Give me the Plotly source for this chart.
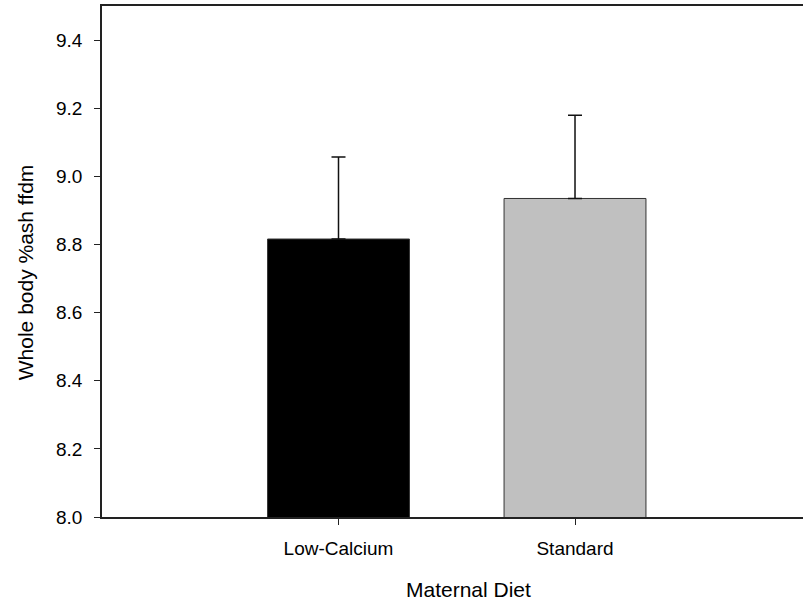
import plotly.graph_objects as go

categories = ["Low-Calcium", "Standard"]
means = [8.816, 8.935]
errors = [0.241, 0.244]
colors = ["#000000", "#C0C0C0"]
y_ticks = [8.0, 8.2, 8.4, 8.6, 8.8, 9.0, 9.2, 9.4]
x_title = "Maternal Diet"
y_title = "Whole body %ash ffdm"

fig = go.Figure()
fig.add_trace(go.Bar(
    x=categories,
    y=means,
    width=0.6,
    marker=dict(color=colors, line=dict(color="#333333", width=1)),
    error_y=dict(type="data", symmetric=False, array=errors,
                 arrayminus=[0, 0], color="#111111", thickness=1.5, width=7),
    showlegend=False,
    hoverinfo="skip",
))

font_family = "Arial, Liberation Sans, sans-serif"
fig.update_layout(
    width=803, height=604,
    margin=dict(l=102, r=0, t=6, b=87, pad=0),
    plot_bgcolor="white", paper_bgcolor="white",
    font=dict(family=font_family, color="black"),
    xaxis=dict(
        range=[-1, 1.964], showgrid=False, zeroline=False,
        showline=True, linecolor="#222222", linewidth=1.5, mirror=True,
        ticks="outside", ticklen=6, tickwidth=1, tickcolor="#222222",
        tickfont=dict(size=19, family=font_family),
        ticklabelstandoff=7,
    ),
    yaxis=dict(
        range=[8.0, 9.5], showgrid=False, zeroline=False,
        showline=True, linecolor="#222222", linewidth=1.5,
        ticks="outside", ticklen=6, tickwidth=1, tickcolor="#222222",
        tickvals=y_ticks, ticktext=[f"{v:.1f}" for v in y_ticks],
        tickfont=dict(size=19, family=font_family),
        ticklabelstandoff=8,
    ),
    annotations=[
        dict(text=x_title, xref="paper", yref="paper", x=0.5223, y=0,
             xanchor="center", yanchor="middle", yshift=-72, showarrow=False,
             font=dict(size=21, family=font_family, color="black")),
        dict(text=y_title, xref="paper", yref="paper", x=0, y=0.479,
             xanchor="center", yanchor="middle", xshift=-77, textangle=-90,
             showarrow=False,
             font=dict(size=21, family=font_family, color="black")),
    ],
)

fig.write_html("out.html", config={"displayModeBar": False},
               post_script="document.body.style.margin='0';")
